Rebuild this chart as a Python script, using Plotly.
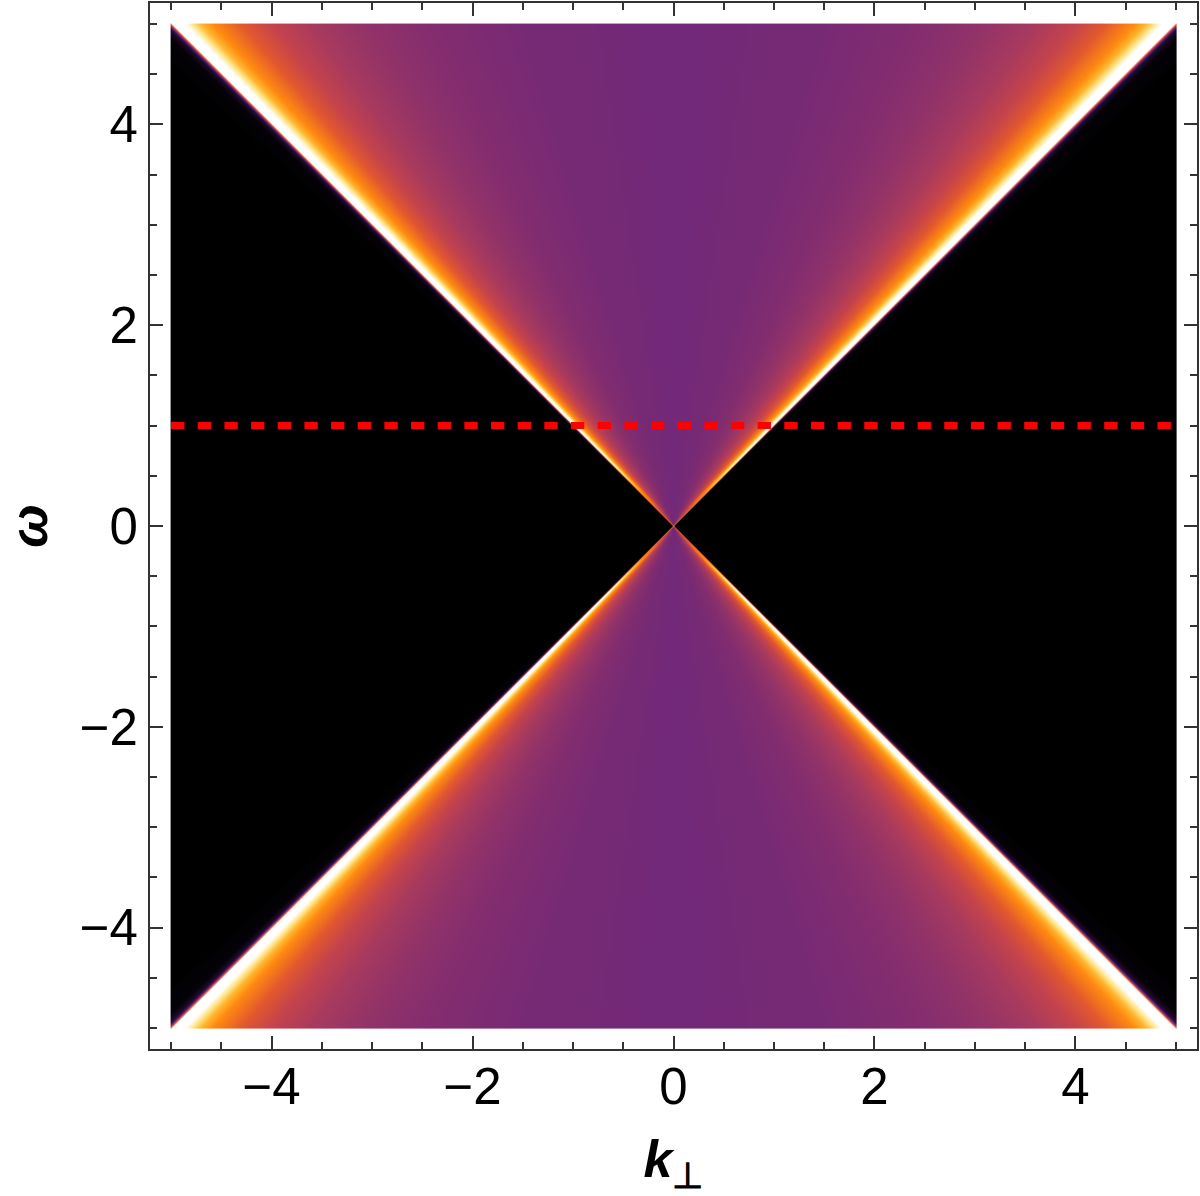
"""Spectral cone in the (k_perp, omega) plane with the omega = 1 cut."""

import numpy as np
import plotly.graph_objects as go

RATIO_STOPS = [0.0, 0.30, 0.50, 0.62, 0.72, 0.80, 0.86, 0.917, 0.940, 0.958, 0.972,
               0.998, 1.000, 1.003, 1.006, 1.012, 1.030, 1.100]
RATIO_COLOURS = ['#72297a', '#772a74', '#842d6f', '#933368', '#a83a5e', '#c5434c',
                 '#e2582f', '#ff8a10', '#ffb52e', '#ffe890', '#ffffff',
                 '#ffffff', '#f0702a', '#c83c50', '#5a2080', '#200c30', '#050208',
                 '#000000']

# near the apex the bright ridge never reaches white: highest ratio shown per |omega|
PEAK_OMEGA = [0.0, 0.1, 0.2, 0.4, 0.6, 0.9]
PEAK_RATIO = [0.70, 0.80, 0.88, 0.94, 0.965, 0.98]

AXIS_LIMIT = 5.21
CUT_OMEGA = [1, 1]
CUT_K = [-5, 5]

FONT = 'Liberation Sans'
FRAME = '#333333'

# one cell per screen pixel, the cone edges need it
k = np.linspace(-5, 5, 1006, dtype=np.float32)
w = np.linspace(-5, 5, 1006, dtype=np.float32)
kk, ww = np.meshgrid(k, w)
ratio = np.abs(kk) / np.maximum(np.abs(ww), 1e-4)
peak = np.interp(np.abs(ww), PEAK_OMEGA, PEAK_RATIO, right=1.0)
ratio = np.where(ratio < 1, np.minimum(ratio, peak), ratio)
ratio = np.minimum(ratio, RATIO_STOPS[-1])

colorscale = [[r / RATIO_STOPS[-1], c] for r, c in zip(RATIO_STOPS, RATIO_COLOURS)]

fig = go.Figure()
fig.add_trace(go.Heatmap(
    x=k, y=w, z=ratio,
    zmin=0, zmax=RATIO_STOPS[-1],
    colorscale=colorscale,
    zsmooth='fast',
    showscale=False,
    hoverinfo='skip',
))

# omega = 1 cut
fig.add_trace(go.Scatter(
    x=CUT_K, y=CUT_OMEGA, mode='lines',
    line=dict(color='#ff0000', width=7, dash='13.33px,13.33px'),
    showlegend=False,
))

_AXIS = dict(
    range=[-AXIS_LIMIT, AXIS_LIMIT],
    tick0=0, dtick=2,
    ticks='inside', ticklen=13, tickwidth=2, tickcolor=FRAME,
    minor=dict(dtick=0.5, tick0=0, ticks='inside', ticklen=7, tickwidth=1.5,
               tickcolor=FRAME, showgrid=False),
    showline=True, linecolor=FRAME, linewidth=2, mirror='ticks',
    showgrid=False, zeroline=False,
    tickfont=dict(family=FONT, size=51, color='black'),
)

fig.update_layout(
    width=1200, height=1196,
    margin=dict(l=150, r=2, t=1, b=147),
    paper_bgcolor='white', plot_bgcolor='white',
    font=dict(family=FONT, color='black'),
    xaxis=dict(**_AXIS, ticklabelstandoff=-8,
               title=dict(text='<b><i>k</i></b><b><sub>⊥</sub></b>',
                          font=dict(family=FONT, size=52), standoff=28)),
    yaxis=dict(**_AXIS, title=dict(text='<b><i>ω</i></b>',
                                   font=dict(family=FONT, size=52), standoff=20)),
    showlegend=False,
)

fig.write_html("out.html", config=dict(displayModeBar=False),
               post_script="document.body.style.margin='0';")
